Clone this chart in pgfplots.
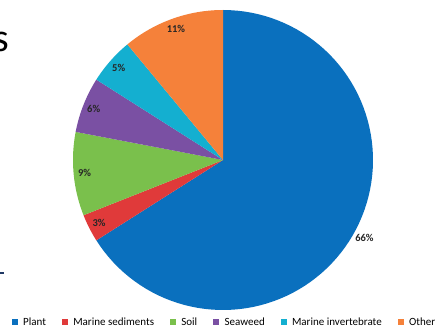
\documentclass[border=0pt]{standalone}
\usepackage{pgfplots}
\pgfplotsset{compat=1.18}
\usepackage{pgfplotstable}
\usepackage{fontspec}
\setmainfont{Carlito}

\definecolor{cPlant}{HTML}{0A70BE}
\definecolor{cMarSed}{HTML}{E03A3A}
\definecolor{cSoil}{HTML}{7AC04C}
\definecolor{cSeaweed}{HTML}{7A50A3}
\definecolor{cMarInv}{HTML}{14AFD0}
\definecolor{cOther}{HTML}{F5813A}
\definecolor{cNavy}{HTML}{1F3864}

\pgfplotstableread[col sep=comma]{
name,share,color,lr
Plant,66,cPlant,1.076
Marine sediments,3,cMarSed,0.927
Soil,9,cSoil,0.927
Seaweed,6,cSeaweed,0.927
Marine invertebrate,5,cMarInv,0.927
Other,11,cOther,0.927
}\piedata

\begin{document}
\begin{tikzpicture}[x=1bp,y=1bp]
\useasboundingbox (0,0) rectangle (443,331);
\fill[white] (0,0) rectangle (443,331);
\node[anchor=east,inner sep=0pt,font=\fontsize{40bp}{44bp}\selectfont] at (9.5,289) {s};
\draw[cNavy,line width=2bp] (0,58) -- (4,58);
\begin{axis}[
  x=150bp,y=150bp,
  xmin=-1,xmax=1,ymin=-1,ymax=1,
  hide axis, clip=false,
  at={(223bp,171bp)}, anchor=center,
  legend columns=6,
  legend style={draw=none,fill=none,at={(0.505,-0.04)},anchor=center,
    font=\fontsize{11bp}{13bp}\selectfont,
    /tikz/every odd column/.append style={column sep=3.5bp},
    /tikz/every even column/.append style={column sep=14bp},
    inner sep=0pt},
  legend image code/.code={\fill[#1] (0bp,-2.8bp) rectangle (5.8bp,3bp);},
]
\pgfplotstablegetrowsof{\piedata}
\pgfmathtruncatemacro{\nrows}{\pgfplotsretval-1}
\gdef\cum{0}
\pgfplotsforeachungrouped \i in {0,...,\nrows}{
  \pgfplotstablegetelem{\i}{share}\of\piedata \let\v\pgfplotsretval
  \pgfplotstablegetelem{\i}{color}\of\piedata \let\col\pgfplotsretval
  \pgfplotstablegetelem{\i}{name}\of\piedata \let\nm\pgfplotsretval
  \pgfplotstablegetelem{\i}{lr}\of\piedata \let\lr\pgfplotsretval
  \pgfmathsetmacro{\a}{90-3.6*\cum}
  \pgfmathsetmacro{\b}{90-3.6*(\cum+\v)}
  \pgfmathsetmacro{\m}{(\a+\b)/2}
  \pgfmathsetmacro{\lx}{\lr*cos(\m)}
  \pgfmathsetmacro{\ly}{\lr*sin(\m)}
  \pgfmathsetmacro{\newcum}{\cum+\v}
  \xdef\cum{\newcum}
  \edef\cmd{%
    \noexpand\addplot[fill=\col,draw=none,domain=\b:\a,samples=90]
      ({cos(x)},{sin(x)}) -- (0,0) -- cycle;
    \noexpand\addlegendentry{\nm}
    \noexpand\node[font=\noexpand\bfseries\noexpand\fontsize{10.5bp}{12bp}\noexpand\selectfont,text=black!85]
      at (axis cs:\lx,\ly) {\v\noexpand\%};
  }
  \cmd
}
\end{axis}
\end{tikzpicture}
\end{document}
